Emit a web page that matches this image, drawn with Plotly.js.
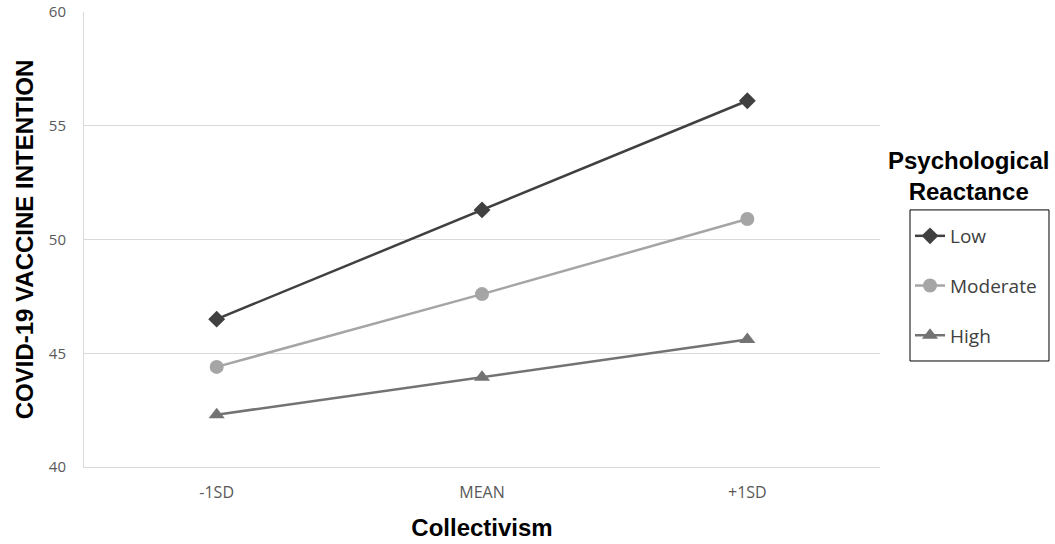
<!DOCTYPE html>
<html>
<head>
<meta charset="utf-8">
<script src="https://cdn.plot.ly/plotly-3.0.1.min.js"></script>
<style>html,body{margin:0;padding:0;background:#fff;}#chart{width:1055px;height:544px;}</style>
</head>
<body>
<div id="chart"></div>
<script>
const categories = ['-1SD', 'MEAN', '+1SD'];
const seriesNames = ['Low', 'Moderate', 'High'];
const lowValues = [46.5, 51.3, 56.1];
const moderateValues = [44.4, 47.6, 50.9];
const highValues = [42.3, 43.95, 45.6];
const yTicks = [40, 45, 50, 55, 60];

const styles = [
  {color: '#404040', symbol: 'diamond', size: 13},
  {color: '#a5a5a5', symbol: 'circle', size: 14},
  {color: '#737373', symbol: 'triangle-up', size: 14}
];
const allValues = [lowValues, moderateValues, highValues];

const traces = allValues.map((vals, i) => ({
  x: categories,
  y: vals,
  name: seriesNames[i],
  type: 'scatter',
  mode: 'lines+markers',
  legendgroup: 'g' + i,
  line: {color: styles[i].color, width: 2.5},
  marker: {color: styles[i].color, symbol: styles[i].symbol, size: styles[i].size}
}));

const layout = {
  width: 1055, height: 544,
  margin: {l: 84, r: 175, t: 12, b: 77},
  paper_bgcolor: '#fff', plot_bgcolor: '#fff',
  showlegend: true,
  xaxis: {
    type: 'category', range: [-0.5, 2.5],
    showgrid: false, zeroline: false,
    showline: true, linecolor: '#d9d9d9', linewidth: 1,
    ticks: '', ticklabelstandoff: 11,
    tickfont: {family: 'Open Sans, sans-serif', size: 16, color: '#595959'},
    title: {text: '<b>Collectivism</b>', font: {family: 'Liberation Sans, Arial, sans-serif', size: 24, color: '#000'}, standoff: 16}
  },
  yaxis: {
    range: [40, 60], tickvals: yTicks,
    showgrid: true, gridcolor: '#d9d9d9', gridwidth: 1,
    zeroline: false, showline: true, linecolor: '#d9d9d9', linewidth: 1,
    ticks: '', ticklabelstandoff: 14,
    tickfont: {family: 'Open Sans, sans-serif', size: 15, color: '#595959'},
    title: {text: '<b>COVID-19 VACCINE INTENTION</b>', font: {family: 'Liberation Sans, Arial, sans-serif', size: 24, color: '#000'}, standoff: 8}
  },
  legend: {
    x: 1.0377, y: 0.5495, xanchor: 'left', yanchor: 'top',
    borderwidth: 0, bgcolor: 'rgba(0,0,0,0)',
    font: {family: 'Open Sans, sans-serif', size: 19, color: '#404040'},
    traceorder: 'grouped', tracegroupgap: 22,
    itemwidth: 30
  },
  shapes: [{
    type: 'rect', xref: 'paper', yref: 'paper',
    x0: 1.0377, x1: 1.2123, y0: 0.233, y1: 0.565,
    line: {color: '#000', width: 1}, fillcolor: 'rgba(0,0,0,0)'
  }],
  annotations: [{
    xref: 'paper', yref: 'paper', x: 1.1106, y: 0.64,
    xanchor: 'center', yanchor: 'middle', showarrow: false,
    text: '<b>Psychological<br>Reactance</b>',
    font: {family: 'Liberation Sans, Arial, sans-serif', size: 24, color: '#000'}
  }]
};

Plotly.newPlot('chart', traces, layout, {displayModeBar: false, staticPlot: true});
</script>
</body>
</html>
